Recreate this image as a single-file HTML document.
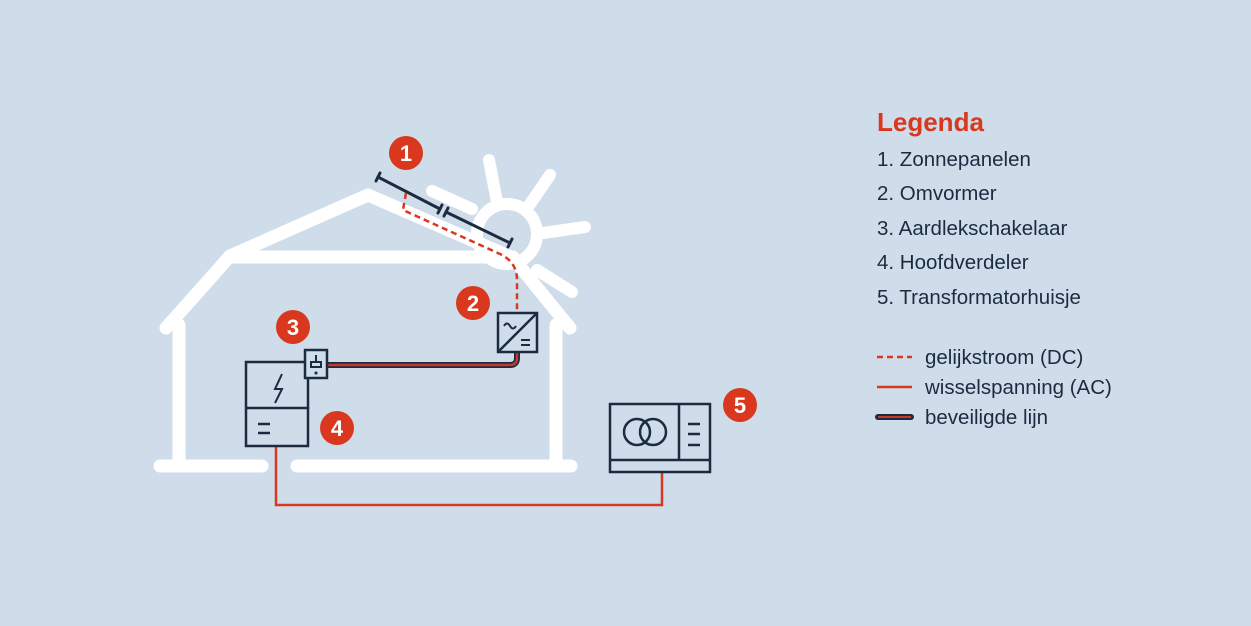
<!DOCTYPE html>
<html><head><meta charset="utf-8"><style>
html,body{margin:0;padding:0;background:#cfdcea;}
svg{display:block}
text{font-family:"Liberation Sans",Arial,sans-serif;}
</style></head><body>
<svg width="1251" height="626" viewBox="0 0 1251 626" xmlns="http://www.w3.org/2000/svg">
<rect width="1251" height="626" fill="#cfdcea"/>
<!-- sun -->
<g stroke="#fff" stroke-width="12" stroke-linecap="round" fill="none">
<circle cx="507" cy="234" r="30"/>
<line x1="489" y1="160" x2="497" y2="202"/>
<line x1="550" y1="175" x2="528" y2="207"/>
<line x1="585" y1="227" x2="543" y2="233"/>
<line x1="572" y1="292" x2="537" y2="270"/>
<line x1="432" y1="191" x2="472" y2="209"/>
</g>
<!-- house -->
<g stroke="#fff" stroke-width="13" stroke-linecap="round" stroke-linejoin="round" fill="none">
<polyline points="166,328 230,256 368,195 513,258 570,328"/>
<line x1="230" y1="257" x2="513" y2="257"/>
<line x1="179" y1="325" x2="179" y2="465"/>
<line x1="556" y1="325" x2="556" y2="465"/>
<line x1="160" y1="466" x2="262" y2="466"/>
<line x1="297" y1="466" x2="571" y2="466"/>
</g>
<!-- panels -->
<g stroke="#1d2b40" stroke-width="3" stroke-linecap="round">
<line x1="378" y1="177" x2="440" y2="209"/>
<line x1="446" y1="212" x2="510" y2="243"/>
<line x1="376" y1="181" x2="380" y2="173"/><line x1="438" y1="213" x2="442" y2="205"/>
<line x1="444" y1="216" x2="448" y2="208"/><line x1="508" y1="247" x2="512" y2="239"/>
</g>
<!-- DC dashed -->
<path d="M406,193 L403,210 L500,254 Q517,262 517,280 L517,313" stroke="#d9381e" stroke-width="2.5" stroke-dasharray="6,4" fill="none"/>
<!-- protected line -->
<path d="M517,352 L517,358 Q517,365 510,365 L327,365" stroke="#1d2b40" stroke-width="6" fill="none"/>
<path d="M517,352 L517,358 Q517,365 510,365 L327,365" stroke="#c8372a" stroke-width="2.5" fill="none"/>
<!-- AC line -->
<path d="M276,446 L276,505 L662,505 L662,472" stroke="#d9381e" stroke-width="2.5" fill="none"/>
<!-- inverter -->
<g stroke="#1d2b40" stroke-width="2.5" fill="none">
<rect x="498" y="313" width="39" height="39"/>
<line x1="498" y1="352" x2="537" y2="313"/>
<path d="M504,326 q3,-5 6,0 t6,0" stroke-width="2"/>
<line x1="521" y1="340" x2="530" y2="340" stroke-width="2"/>
<line x1="521" y1="345" x2="530" y2="345" stroke-width="2"/>
</g>
<!-- switch + distributor -->
<g stroke="#1d2b40" stroke-width="2.5" fill="none">
<rect x="246" y="362" width="62" height="84"/>
<line x1="246" y1="408" x2="308" y2="408"/>
<path d="M282,374 L275,389 L282,389 L275,403" stroke-width="2"/>
<line x1="258" y1="424" x2="270" y2="424"/>
<line x1="258" y1="433" x2="270" y2="433"/>
<rect x="305" y="350" width="22" height="28" fill="#cfdcea"/>
<line x1="316" y1="355" x2="316" y2="362" stroke-width="2"/>
<rect x="311" y="362" width="10" height="5" stroke-width="2"/>
<circle cx="316" cy="373" r="0.8" stroke-width="1.5"/>
</g>
<!-- transformer -->
<g stroke="#1d2b40" stroke-width="2.5" fill="none">
<rect x="610" y="404" width="100" height="68"/>
<line x1="610" y1="460" x2="710" y2="460"/>
<line x1="679" y1="404" x2="679" y2="460"/>
<circle cx="637" cy="432" r="13"/>
<circle cx="653" cy="432" r="13"/>
<line x1="688" y1="424" x2="700" y2="424"/>
<line x1="688" y1="434" x2="700" y2="434"/>
<line x1="688" y1="445" x2="700" y2="445"/>
</g>
<!-- badges -->
<g font-weight="bold" font-size="22" fill="#fff" text-anchor="middle">
<circle cx="406" cy="153" r="17" fill="#d9381e"/><text x="406" y="161">1</text>
<circle cx="473" cy="303" r="17" fill="#d9381e"/><text x="473" y="311">2</text>
<circle cx="293" cy="327" r="17" fill="#d9381e"/><text x="293" y="335">3</text>
<circle cx="337" cy="428" r="17" fill="#d9381e"/><text x="337" y="436">4</text>
<circle cx="740" cy="405" r="17" fill="#d9381e"/><text x="740" y="413">5</text>
</g>
<!-- legend -->
<text x="877" y="131" font-size="26" font-weight="bold" fill="#d9381e">Legenda</text>
<g font-size="20.5" fill="#1d2b40">
<text x="877" y="166">1. Zonnepanelen</text>
<text x="877" y="200">2. Omvormer</text>
<text x="877" y="235">3. Aardlekschakelaar</text>
<text x="877" y="269">4. Hoofdverdeler</text>
<text x="877" y="304">5. Transformatorhuisje</text>
<text x="925" y="364">gelijkstroom (DC)</text>
<text x="925" y="394">wisselspanning (AC)</text>
<text x="925" y="424">beveiligde lijn</text>
</g>
<line x1="877" y1="357" x2="912" y2="357" stroke="#d9381e" stroke-width="2.5" stroke-dasharray="6,4"/>
<line x1="877" y1="387" x2="912" y2="387" stroke="#d9381e" stroke-width="2.5"/>
<line x1="878" y1="417" x2="911" y2="417" stroke="#1d2b40" stroke-width="6" stroke-linecap="round"/>
<line x1="878" y1="417" x2="911" y2="417" stroke="#c8372a" stroke-width="2"/>
</svg>
</body></html>
